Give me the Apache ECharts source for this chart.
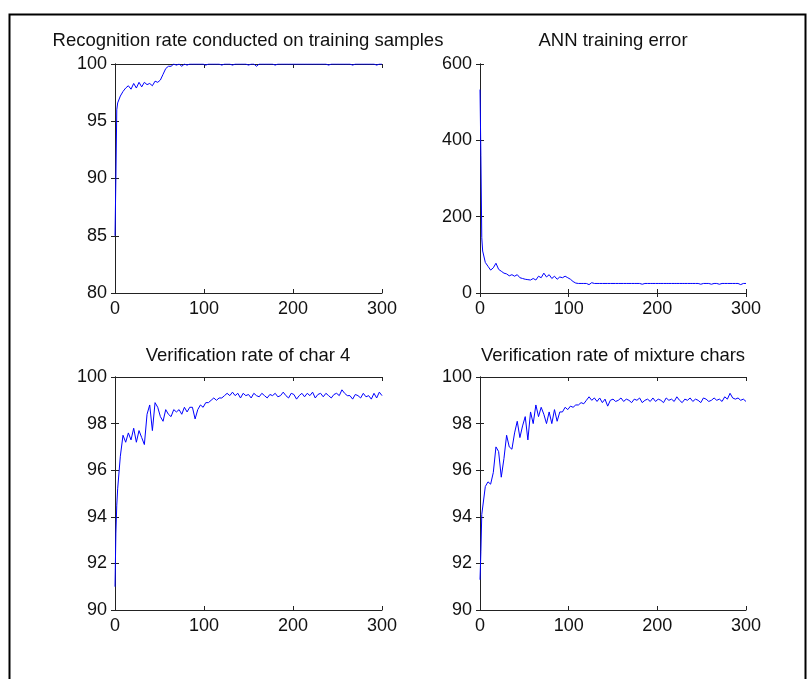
<!DOCTYPE html>
<html>
<head>
<meta charset="utf-8">
<script src="https://cdn.jsdelivr.net/npm/echarts@6/dist/echarts.min.js"></script>
<style>
  html, body { margin: 0; padding: 0; background: #fff; }
  #chart-container { width: 811px; height: 679px; }
</style>
</head>
<body>
<div id="chart-container"></div>
<script>
// epoch numbers (x values shared by all four plots)
var epochs = [0, 1, 2, 3, 6, 9, 12, 15, 18, 21,
  24, 27, 30, 33, 36, 39, 42, 45, 48, 51,
  54, 57, 60, 63, 66, 69, 72, 75, 78, 81,
  84, 87, 90, 93, 96, 99, 102, 105, 108, 111,
  114, 117, 120, 123, 126, 129, 132, 135, 138, 141,
  144, 147, 150, 153, 156, 159, 162, 165, 168, 171,
  174, 177, 180, 183, 186, 189, 192, 195, 198, 201,
  204, 207, 210, 213, 216, 219, 222, 225, 228, 231,
  234, 237, 240, 243, 246, 249, 252, 255, 258, 261,
  264, 267, 270, 273, 276, 279, 282, 285, 288, 291,
  294, 297, 300];

// recognition rate on training samples (%)
var recogRate = [85, 90, 96, 96.6, 97.2, 97.6, 97.9, 98.1, 97.8, 98.3,
  97.9, 98.4, 98.0, 98.4, 98.2, 98.3, 98.1, 98.5, 98.4, 98.6,
  99.1, 99.6, 99.8, 99.8, 100, 99.9, 100, 99.8, 100, 99.9,
  100, 100, 100, 100, 100, 100, 99.9, 100, 100, 100,
  100, 100, 99.9, 100, 100, 100, 99.9, 100, 100, 100,
  100, 100, 99.9, 100, 100, 99.8, 100, 100, 100, 100,
  100, 100, 99.9, 100, 100, 100, 100, 100, 100, 100,
  100, 100, 100, 100, 100, 100, 100, 100, 100, 100,
  100, 100, 99.9, 100, 100, 100, 100, 100, 100, 100,
  100, 99.9, 100, 100, 100, 100, 100, 100, 100, 100,
  99.9, 100, 100];

// ANN training error
var trainError = [533, 360, 145, 110, 80, 70, 60, 66, 78, 62,
  57, 52, 50, 45, 48, 44, 48, 40, 38, 36,
  35, 34, 38, 34, 44, 40, 52, 42, 48, 38,
  44, 36, 42, 40, 44, 40, 36, 30, 26, 25,
  25, 25, 25, 22, 27, 25, 25, 25, 25, 25,
  25, 25, 25, 25, 25, 25, 25, 25, 25, 25,
  25, 25, 25, 23, 25, 25, 25, 25, 25, 25,
  25, 25, 25, 25, 25, 25, 25, 25, 25, 25,
  25, 25, 25, 25, 25, 23, 25, 25, 25, 23,
  25, 25, 23, 25, 25, 25, 25, 25, 25, 25,
  22, 25, 25];

// verification rate of char 4 (%)
var char4Rate = [91, 93.3, 94.5, 95.2, 96.6, 97.5, 97.2, 97.6, 97.3, 97.8,
  97.2, 97.7, 97.4, 97.1, 98.4, 98.8, 97.7, 98.9, 98.7, 98.3,
  98.1, 98.6, 98.4, 98.3, 98.6, 98.5, 98.6, 98.4, 98.7, 98.5,
  98.7, 98.7, 98.2, 98.6, 98.8, 98.7, 98.9, 98.9, 99.0, 99.1,
  99.0, 99.1, 99.1, 99.2, 99.3, 99.2, 99.35, 99.2, 99.3, 99.1,
  99.3, 99.2, 99.25, 99.1, 99.3, 99.2, 99.15, 99.3, 99.2, 99.1,
  99.25, 99.2, 99.3, 99.15, 99.2, 99.35, 99.2, 99.1, 99.3, 99.25,
  99.05, 99.2, 99.3, 99.15, 99.3, 99.2, 99.35, 99.1, 99.25, 99.3,
  99.15, 99.3, 99.2, 99.1, 99.25, 99.3, 99.2, 99.45, 99.3, 99.2,
  99.2, 99.05, 99.25, 99.2, 99.1, 99.3, 99.15, 99.2, 99.05, 99.3,
  99.1, 99.35, 99.2];

// verification rate of mixture chars (%)
var mixRate = [91.3, 92.5, 94.1, 94.1, 95.3, 95.5, 95.4, 95.9, 97.0, 96.8,
  95.7, 96.5, 97.5, 97.0, 96.9, 97.6, 98.1, 97.4, 97.9, 98.3,
  97.3, 98.5, 98.0, 98.8, 98.3, 98.7, 98.4, 98.0, 98.5, 98.0,
  98.6, 98.1, 98.5, 98.5, 98.7, 98.6, 98.75, 98.7, 98.8, 98.8,
  98.9, 98.85, 99.0, 99.15, 99.0, 99.1, 98.95, 99.1, 98.9, 99.05,
  98.75, 99.0, 99.05, 98.95, 99.0, 99.1, 98.95, 99.05, 99.0, 98.9,
  99.05, 99.0, 99.1, 98.9, 99.0, 99.05, 98.95, 99.1, 98.95, 99.05,
  99.0, 98.9, 99.1, 99.0, 99.05, 98.95, 99.15, 99.0, 98.9, 99.05,
  99.0, 99.1, 98.95, 99.05, 99.0, 98.9, 99.1, 99.05, 98.95, 99.0,
  99.1, 99.0, 99.05, 98.95, 99.15, 99.05, 99.3, 99.1, 99.05, 99.1,
  99.0, 99.05, 98.95];

var titles = ['Recognition rate conducted on training samples', 'ANN training error',
  'Verification rate of char 4', 'Verification rate of mixture chars'];
var yMins = [80, 0, 90, 90];
var yMaxs = [100, 600, 100, 100];
var ySteps = [5, 200, 2, 2];

var dom = document.getElementById('chart-container');
var myChart = echarts.init(dom, null, { renderer: 'canvas' });

var font = "'Liberation Sans', Arial, sans-serif";
var boxes = [
  { left: 115, top: 64, width: 267, height: 229, titleX: 248, titleTop: 31 },
  { left: 480, top: 64, width: 266, height: 229, titleX: 613, titleTop: 31 },
  { left: 115, top: 377, width: 267, height: 233, titleX: 248, titleTop: 346 },
  { left: 480, top: 377, width: 266, height: 233, titleX: 613, titleTop: 346 }
];
var seriesData = [recogRate, trainError, char4Rate, mixRate];

var lineStyle = { color: '#222', width: 1 };
var tick = { show: true, inside: true, length: 4, lineStyle: lineStyle };

var title = [], grid = [], xAxis = [], yAxis = [], series = [];
boxes.forEach(function (b, i) {
  title.push({
    text: titles[i], left: b.titleX, top: b.titleTop, textAlign: 'center', padding: 0,
    textStyle: { fontFamily: font, fontSize: 18.5, fontWeight: 'normal', color: '#111' }
  });
  grid.push({ left: b.left, top: b.top, width: b.width, height: b.height,
    containLabel: false, outerBoundsMode: 'none' });
  // bottom + top x axes (top one only for ticks, like a matlab box)
  xAxis.push({
    type: 'value', gridIndex: i, min: 0, max: 300, interval: 100, position: 'bottom',
    axisLine: { show: true, lineStyle: lineStyle }, axisTick: tick, splitLine: { show: false },
    axisLabel: { margin: 7, color: '#111', fontFamily: font, fontSize: 18 }
  });
  xAxis.push({
    type: 'value', gridIndex: i, min: 0, max: 300, interval: 100, position: 'top',
    axisLine: { show: true, lineStyle: lineStyle }, axisTick: tick, splitLine: { show: false },
    axisLabel: { show: false }
  });
  yAxis.push({
    type: 'value', gridIndex: i, min: yMins[i], max: yMaxs[i], interval: ySteps[i], position: 'left',
    axisLine: { show: true, lineStyle: lineStyle }, axisTick: tick, splitLine: { show: false },
    axisLabel: { margin: 8, color: '#111', fontFamily: font, fontSize: 18 }
  });
  yAxis.push({
    type: 'value', gridIndex: i, min: yMins[i], max: yMaxs[i], interval: ySteps[i], position: 'right',
    axisLine: { show: true, lineStyle: lineStyle }, axisTick: tick, splitLine: { show: false },
    axisLabel: { show: false }
  });
  series.push({
    type: 'line', xAxisIndex: i * 2, yAxisIndex: i * 2, showSymbol: false,
    lineStyle: { color: '#0000ff', width: 1 }, itemStyle: { color: '#0000ff' },
    data: seriesData[i].map(function (v, k) { return [epochs[k], v]; })
  });
});

var option = {
  backgroundColor: '#fff',
  animation: false,
  title: title,
  grid: grid,
  xAxis: xAxis,
  yAxis: yAxis,
  series: series,
  graphic: [{
    type: 'rect', left: 7, top: 12,
    shape: { width: 796, height: 700 },
    style: { fill: 'none', stroke: '#000', lineWidth: 2 }
  }]
};

myChart.setOption(option);
window.addEventListener('resize', myChart.resize);
</script>
</body>
</html>
